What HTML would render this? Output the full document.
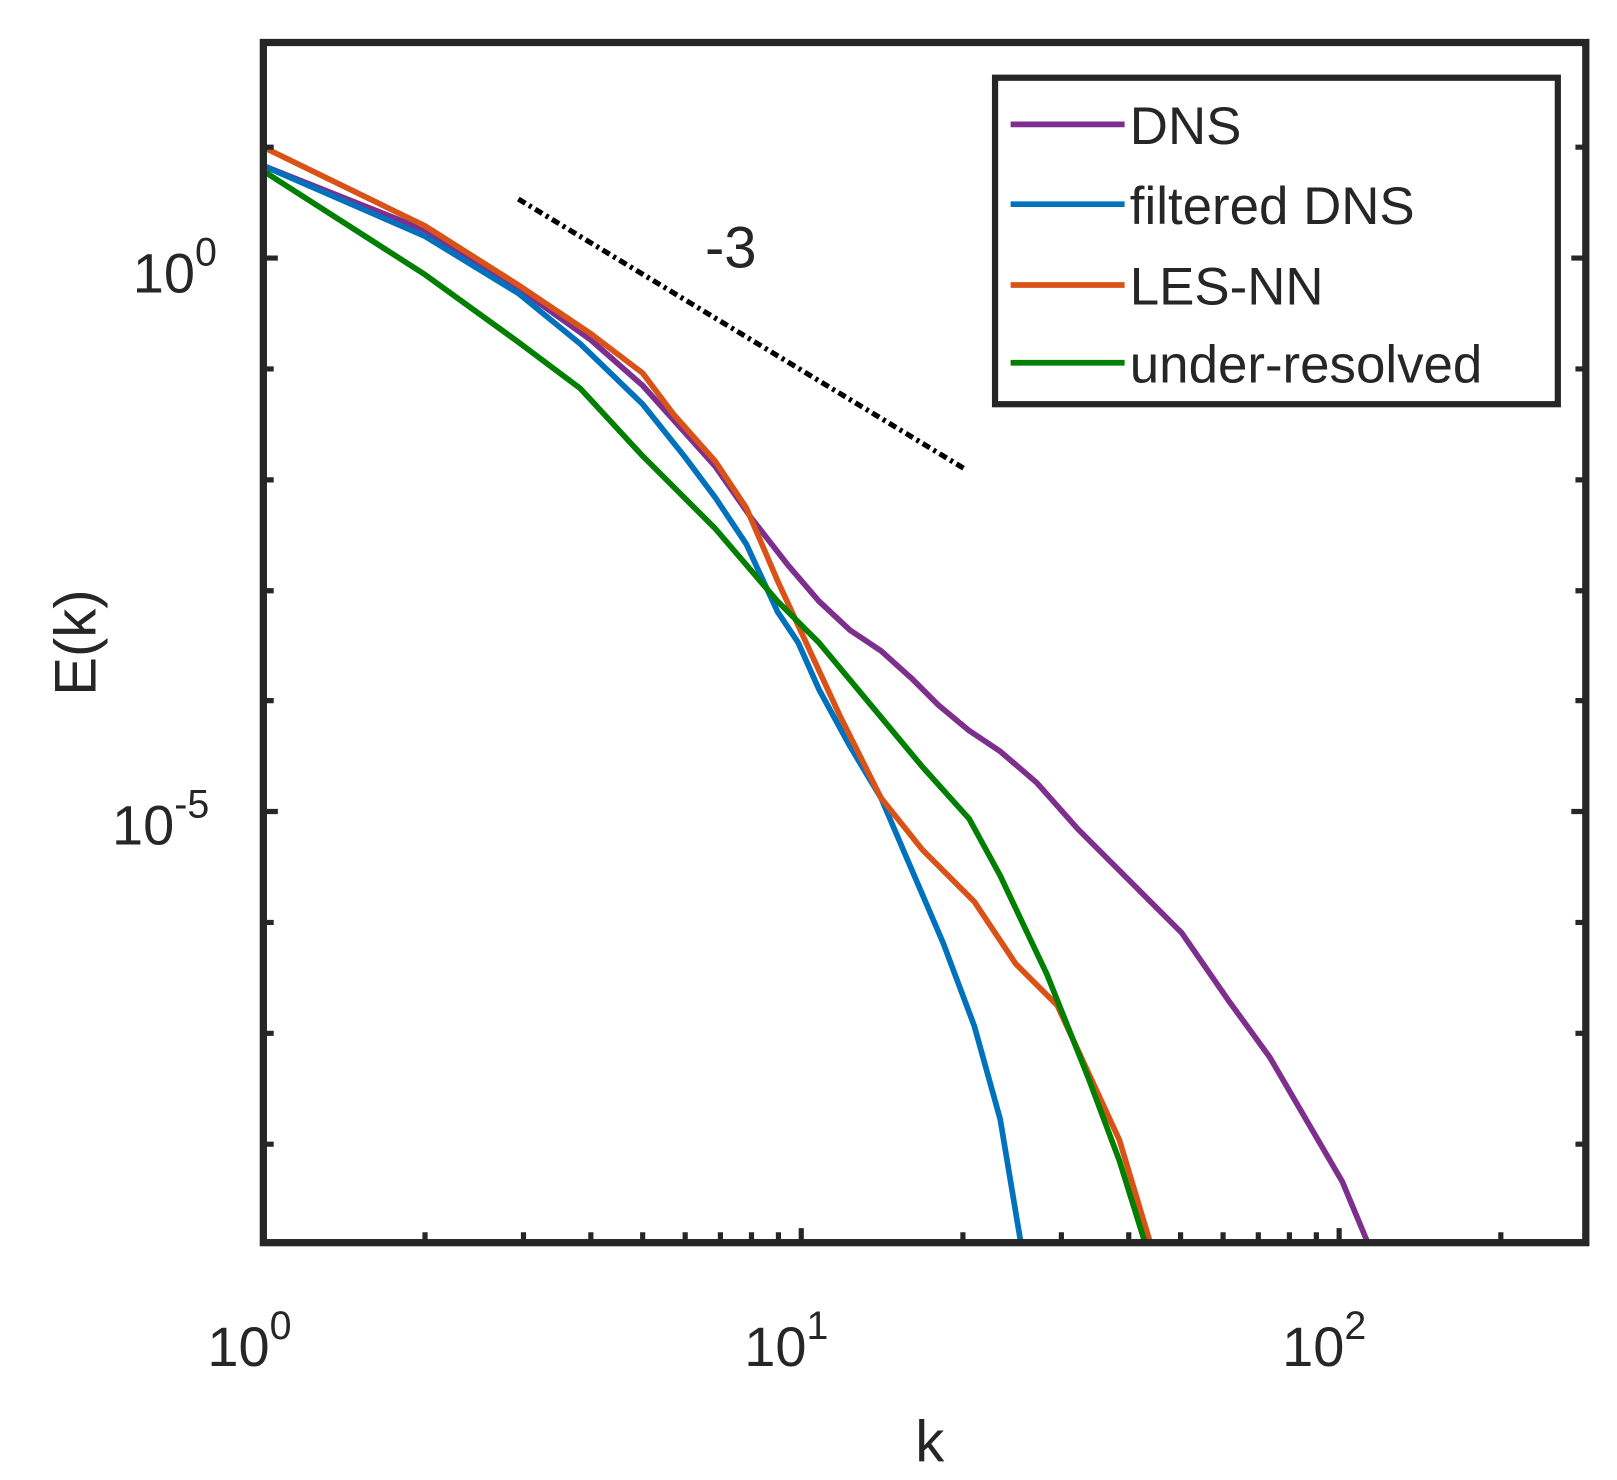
<!DOCTYPE html>
<html><head><meta charset="utf-8"><style>
html,body{margin:0;padding:0;background:#fff;}
svg{display:block;}
text{font-family:"Liberation Sans",sans-serif;fill:#262626;}
</style></head><body>
<svg width="1617" height="1480" viewBox="0 0 1560 1428" xmlns="http://www.w3.org/2000/svg">
<rect width="1560" height="1428" fill="#fff"/>
<g fill="none" stroke-width="5.5" stroke-linejoin="round">
<polyline stroke="#7E2F8E" points="254,160 410,222 500,278 570,328 620,372 690,450 725,500 760,545 790,580 820,608 850,628 880,655 905,680 935,705 965,725 1000,755 1040,800 1100,860 1140,900 1185,965 1225,1020 1260,1080 1295,1140 1320,1200"/>
<polyline stroke="#0072BD" points="254,160 410,228 500,283 560,332 620,390 660,440 690,480 720,525 750,590 770,620 790,665 820,720 850,770 880,840 910,910 940,990 965,1080 985,1200"/>
<polyline stroke="#D95319" points="254,142 410,218 500,275 570,322 620,360 650,400 690,445 720,490 750,560 780,625 810,690 850,770 890,820 940,870 980,930 1020,970 1050,1035 1080,1100 1110,1200"/>
<polyline stroke="#007F00" points="254,165 410,265 500,330 560,375 620,440 690,510 750,580 790,620 840,680 890,740 935,790 965,845 1010,940 1050,1040 1080,1120 1105,1200"/>
<line x1="500" y1="192" x2="930" y2="452" stroke="#000" stroke-width="5" stroke-dasharray="8,4,3,4"/>
</g>
<text x="705" y="258" font-size="56" text-anchor="middle">-3</text>
<g stroke="#262626" stroke-width="5">
<path d="M254,142h10M254,356h10M254,463h10M254,570h10M254,676h10M254,890h10M254,997h10M254,1104h10"/>
<path d="M1530,142h-10M1530,356h-10M1530,463h-10M1530,570h-10M1530,676h-10M1530,890h-10M1530,997h-10M1530,1104h-10"/>
<path d="M254,249h14M254,783h14M1530,249h-14M1530,783h-14"/>
<path d="M410,1199v-10M505,1199v-10M570,1199v-10M620,1199v-10M661,1199v-10M695,1199v-10M725,1199v-10M751,1199v-10M929,1199v-10M1024,1199v-10M1089,1199v-10M1139,1199v-10M1180,1199v-10M1214,1199v-10M1244,1199v-10M1270,1199v-10M1448,1199v-10"/>
<path d="M773,1199v-14M1292,1199v-14"/>
</g>
<rect x="254" y="41" width="1276" height="1158" fill="none" stroke="#262626" stroke-width="7"/>
<rect x="960" y="75" width="543" height="315" fill="#fff" stroke="#262626" stroke-width="6"/>
<g stroke-width="5.5">
<line x1="975" y1="120" x2="1085" y2="120" stroke="#7E2F8E"/>
<line x1="975" y1="197" x2="1085" y2="197" stroke="#0072BD"/>
<line x1="975" y1="275" x2="1085" y2="275" stroke="#D95319"/>
<line x1="975" y1="350" x2="1085" y2="350" stroke="#007F00"/>
</g>
<g font-size="51">
<text x="1090" y="139">DNS</text>
<text x="1090" y="216">filtered DNS</text>
<text x="1090" y="294">LES-NN</text>
<text x="1090" y="369">under-resolved</text>
</g>
<g font-size="54">
<text x="128" y="282">10<tspan font-size="38" dy="-26">0</tspan></text>
<text x="108" y="815">10<tspan font-size="38" dy="-26">-5</tspan></text>
<text x="200" y="1318">10<tspan font-size="38" dy="-26">0</tspan></text>
<text x="718" y="1318">10<tspan font-size="38" dy="-26">1</tspan></text>
<text x="1237" y="1318">10<tspan font-size="38" dy="-26">2</tspan></text>
</g>
<text x="897" y="1410" font-size="56" text-anchor="middle">k</text>
<text transform="translate(92,620) rotate(-90)" font-size="56" text-anchor="middle">E(k)</text>
</svg>
</body></html>
